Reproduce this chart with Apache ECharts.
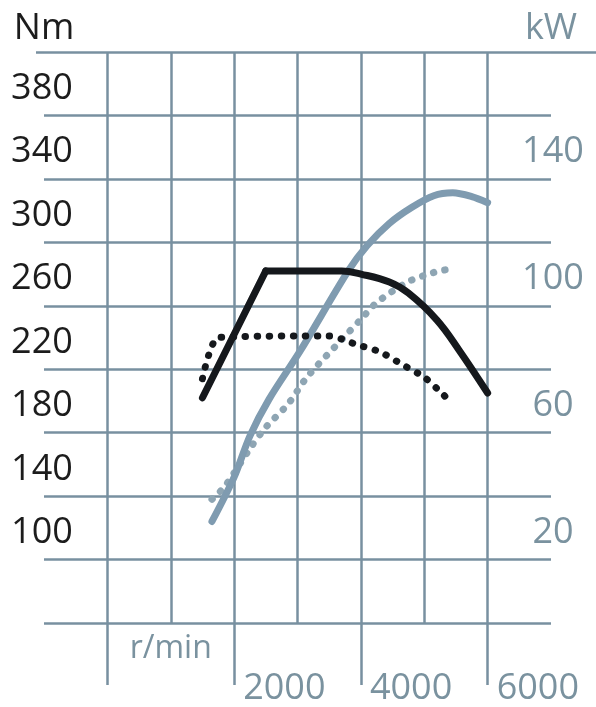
<!DOCTYPE html>
<html><head><meta charset="utf-8">
<script src="https://cdn.jsdelivr.net/npm/echarts@6/dist/echarts.min.js"></script>
<style>html,body{margin:0;padding:0;background:#ffffff}#c{width:596px;height:707px}</style>
</head><body><div id="c"></div>
<script>
// ---- data ----
const rpmLabels = [2000, 4000, 6000];
const rpmLongTicks = [0, 2000, 4000, 6000];
const rpmUnitAt = [1000];
const nmLabels = [100, 140, 180, 220, 260, 300, 340, 380];
const kwLabels = [20, 60, 100, 140];

// torque, engine A (Nm) – solid black
const torqueA = [[1500,182],[2500,262],[3700,262],[4000,260],[4450,255],[4750,248],[5200,231],[5550,212],[6000,185]];
// torque, engine B (Nm) – dotted black
const torqueB = [[1500,194],[1750,220],[3500,221],[3700,219],[3900,216],[4300,211],[4650,203],[5000,195],[5300,184],[5450,178]];
// power, engine A (kW) – solid grey-blue
const powerA = [[1650,22],[2000,36],[2250,49],[2550,60.5],[3050,76],[3800,101],[4100,109],[4450,116],[4800,121],[5150,124.7],[5450,125.6],[5750,124.4],[6000,122.5]];
// power, engine B (kW) – dotted grey-blue
const powerB = [[1650,29],[1850,33],[2250,45],[2500,51.7],[2850,59],[3150,67.5],[3700,79.4],[4000,85.7],[4250,91],[4750,97.6],[5150,100.5],[5350,101.4]];

const GRID = '#7890a0';
const BLACK = '#15181c';
const BLUE = '#7f9bb0';
const BLUE_DOT = '#8ea5b3';
const TXT = '#1c1c1c';
const TXT_BLUE = '#7a929f';
const FONT = '"Open Sans", sans-serif';
const plain = function (v) { return String(v); };

// the straight run-up of torque A and its smooth plateau/fall share the corner point
const torqueARise = torqueA.slice(0, 2);
const torqueACurve = torqueA.slice(1);

const chart = echarts.init(document.getElementById('c'), null, {renderer: 'canvas'});
chart.setOption({
  backgroundColor: '#ffffff',
  animation: false,
  grid: {left: 44, right: 45, top: 52, bottom: 83, containLabel: false},
  xAxis: [
    {
      type: 'value', min: -1000, max: 7000, interval: 1000, position: 'bottom',
      axisLine: {show: false, onZero: false}, axisTick: {show: false},
      splitLine: {show: true, showMinLine: false, showMaxLine: false, lineStyle: {color: GRID, width: 2.5}},
      axisLabel: {customValues: rpmLabels, formatter: plain, align: 'left', padding: [0, 0, 0, 9], margin: 48,
        fontSize: 36, fontFamily: FONT, color: TXT_BLUE}
    },
    {
      type: 'value', min: -1000, max: 7000, position: 'bottom',
      axisLine: {show: false, onZero: false}, splitLine: {show: false},
      axisTick: {show: true, customValues: rpmLongTicks, length: 62, lineStyle: {color: GRID, width: 2.5}},
      axisLabel: {customValues: rpmUnitAt, formatter: function () { return 'r/min'; }, align: 'center', margin: 10,
        fontSize: 32, fontFamily: FONT, color: TXT_BLUE}
    }
  ],
  yAxis: [
    {
      type: 'value', min: 40, max: 400, interval: 40, position: 'left',
      name: 'Nm', nameLocation: 'end', nameGap: 5,
      nameTextStyle: {fontSize: 36, fontFamily: FONT, color: TXT},
      axisLine: {show: false, onZero: false}, axisTick: {show: false},
      splitLine: {show: true, lineStyle: {color: GRID, width: 2.5}},
      axisLabel: {customValues: nmLabels, formatter: plain, align: 'center', verticalAlign: 'top', lineHeight: 10, margin: 2,
        fontSize: 36, fontFamily: FONT, color: TXT}
    },
    {
      type: 'value', min: -10, max: 170, interval: 20, position: 'right', alignTicks: false,
      name: 'kW', nameLocation: 'end', nameGap: 5,
      nameTextStyle: {fontSize: 36, fontFamily: FONT, color: TXT_BLUE},
      axisLine: {show: false, onZero: false}, splitLine: {show: false},
      axisTick: {show: true, customValues: [170], length: 45, lineStyle: {color: GRID, width: 2.5}},
      axisLabel: {customValues: kwLabels, formatter: plain, align: 'center', verticalAlign: 'top', lineHeight: 10, margin: 2,
        fontSize: 36, fontFamily: FONT, color: TXT_BLUE}
    },
    {
      type: 'value', min: 40, max: 400, position: 'left', alignTicks: false,
      axisLine: {show: false, onZero: false}, splitLine: {show: false}, axisLabel: {show: false},
      axisTick: {show: true, customValues: [400], length: 8, lineStyle: {color: GRID, width: 2.5}}
    }
  ],
  series: [
    {type: 'line', name: 'powerB', xAxisIndex: 0, yAxisIndex: 1, data: powerB, smooth: 0.3,
      showSymbol: false, lineStyle: {color: BLUE_DOT, width: 7, type: [0.5, 11], cap: 'round'}, z: 2},
    {type: 'line', name: 'powerA', xAxisIndex: 0, yAxisIndex: 1, data: powerA, smooth: 0.3,
      showSymbol: false, lineStyle: {color: BLUE, width: 7, cap: 'round'}, z: 3},
    {type: 'line', name: 'torqueB', xAxisIndex: 0, yAxisIndex: 0, data: torqueB, smooth: 0.2,
      showSymbol: false, lineStyle: {color: BLACK, width: 7, type: [0.5, 11.5], cap: 'round'}, z: 4},
    {type: 'line', name: 'torqueA', xAxisIndex: 0, yAxisIndex: 0, data: torqueARise, smooth: false,
      showSymbol: false, lineStyle: {color: BLACK, width: 7, cap: 'round', join: 'round'}, z: 5},
    {type: 'line', name: 'torqueA', xAxisIndex: 0, yAxisIndex: 0, data: torqueACurve, smooth: 0.4,
      showSymbol: false, lineStyle: {color: BLACK, width: 7, cap: 'round', join: 'round'}, z: 5}
  ]
});
</script>
</body></html>
